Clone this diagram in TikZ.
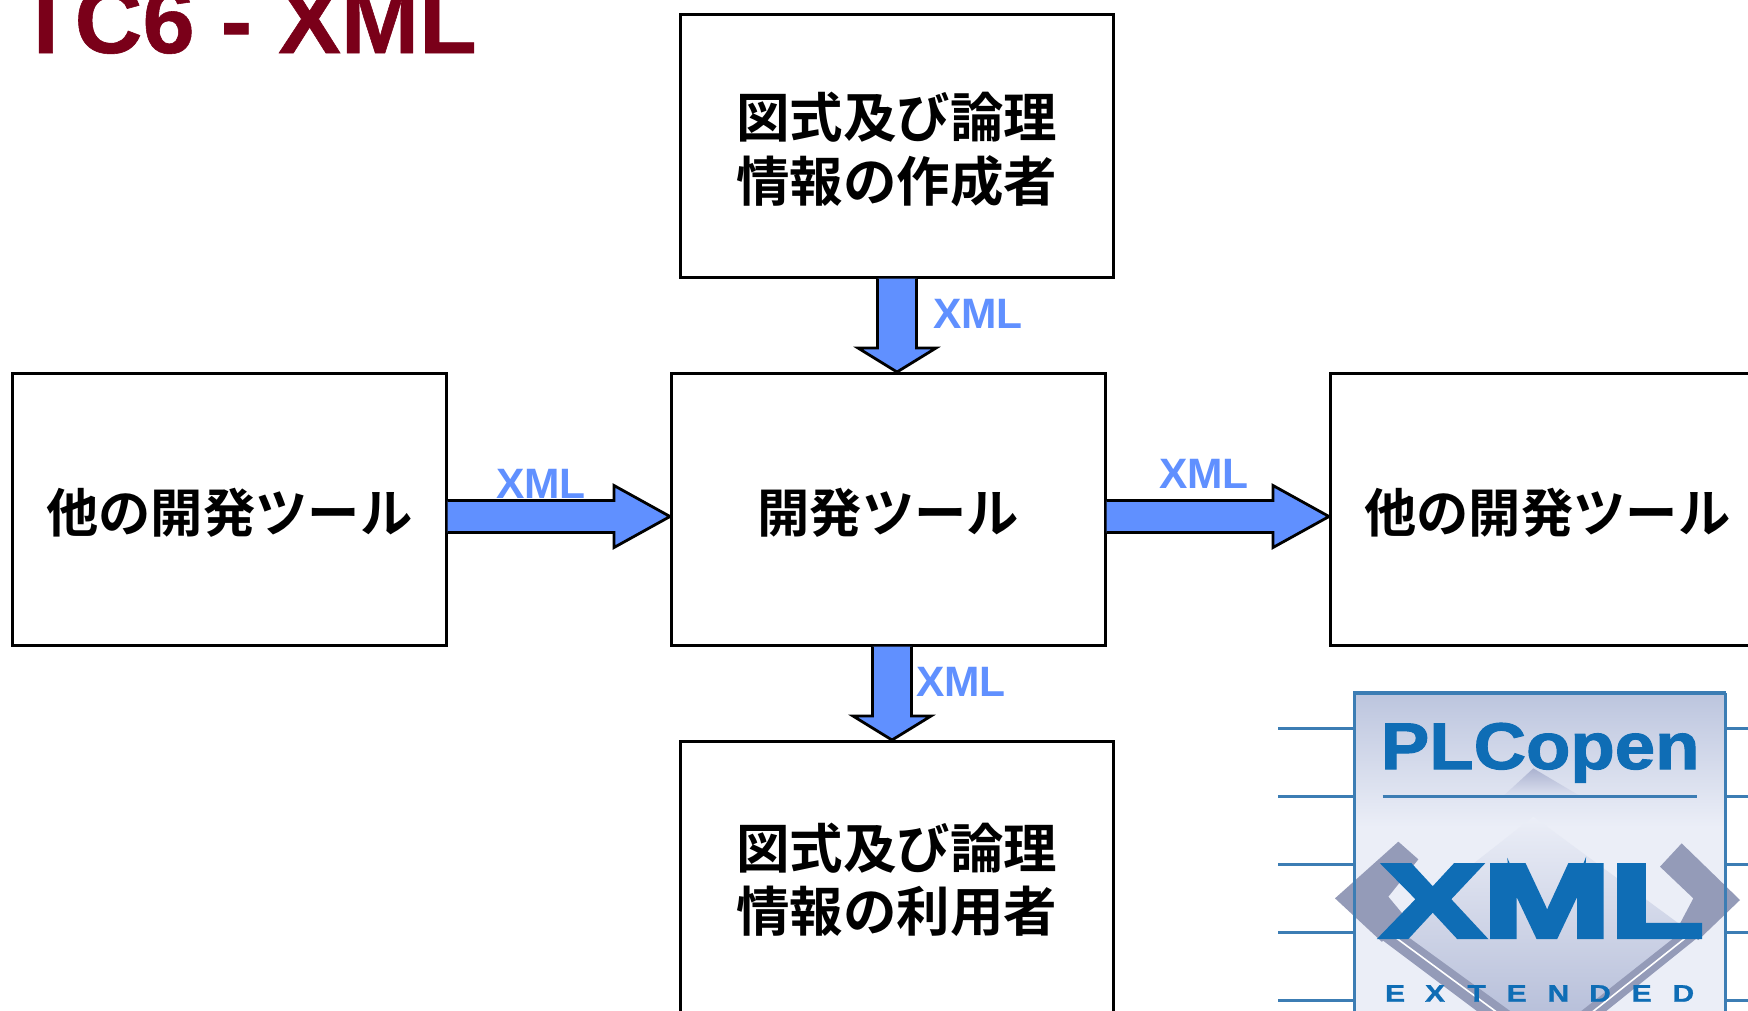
\documentclass[tikz,border=0pt]{standalone}
\usepackage{fontspec}
\setmainfont{Liberation Sans}
\newfontfamily\cjk{Noto Sans CJK JP}[BoldFont={Noto Sans CJK JP Bold}]
\usetikzlibrary{calc}
\definecolor{titlered}{HTML}{7A0019}
\definecolor{xmlblue}{HTML}{6090FF}
\definecolor{logoblue}{HTML}{0F6DB5}
\definecolor{logoline}{HTML}{3C7DB4}
\definecolor{logogray}{HTML}{949BB8}
\definecolor{logotop}{HTML}{BCC5DE}
\definecolor{logopale}{HTML}{EBEEF7}
\definecolor{logomid}{HTML}{AAB2D0}
\definecolor{logolight}{HTML}{DEE2F0}
\definecolor{logolow}{HTML}{B8C0DA}
\tikzset{
  box/.style={draw=black,line width=2.6pt,fill=white,anchor=north west,inner sep=0pt},
  boxtext/.style={inner sep=0pt,align=center,font=\cjk\bfseries\fontsize{53.5}{63.5}\selectfont},
  boxline/.style={inner sep=0pt,font=\cjk\bfseries\fontsize{52.3}{60}\selectfont},
  xmllabel/.style={text=xmlblue,anchor=base west,inner sep=0pt,font=\bfseries\fontsize{42.5}{42}\selectfont},
  blockarrow/.style={draw=black,line width=2.8pt,fill=xmlblue,line join=miter},
  logoedge/.style={draw=logoline,line width=3pt},
  logotext/.style={text=logoblue,inner sep=0pt,anchor=base west}
}
% block arrows from a named start coordinate to a named tip coordinate
\newcommand\arrowdown[5]{% start, tip, shaft half, head half, head length
  \draw[blockarrow] ($(#1)+(-#3,0)$) -- ($(#2)+(-#3,-#5)$) -- ($(#2)+(-#4,-#5)$) -- (#2)
    -- ($(#2)+(#4,-#5)$) -- ($(#2)+(#3,-#5)$) -- ($(#1)+(#3,0)$);}
\newcommand\arrowright[5]{%
  \draw[blockarrow] ($(#1)+(0,-#3)$) -- ($(#2)+(-#5,-#3)$) -- ($(#2)+(-#5,-#4)$) -- (#2)
    -- ($(#2)+(-#5,#4)$) -- ($(#2)+(-#5,#3)$) -- ($(#1)+(0,#3)$);}
\begin{document}
\begin{tikzpicture}[x=1pt,y=-1pt]
\useasboundingbox (0,0) rectangle (1748,1010);
\clip (0,0) rectangle (1748,1010);
\fill[white] (0,0) rectangle (1748,1010);

\node[anchor=base west,inner sep=0pt,text=titlered,font=\bfseries\addfontfeature{FakeBold=0.6}\fontsize{94}{94}\selectfont] (title) at (17,53) {TC6 - XML};

% boxes
\node[box,minimum width=433pt,minimum height=263pt] (top) at (679,13) {};
\node[box,minimum width=434pt,minimum height=272pt] (center) at (670,372) {};
\node[box,minimum width=434pt,minimum height=272pt] (left) at (11,372) {};
\node[box,minimum width=434pt,minimum height=272pt] (right) at (1329,372) {};
\node[box,minimum width=433pt,minimum height=320pt] (bottom) at (679,740) {};

\node[boxtext] (toptext) at ($(top.center)+(0,3.5)$) {図式及び論理\\情報の作成者};
\node[boxline] (centertext) at ($(center.center)+(0,3)$) {開発ツール};
\node[boxline] (lefttext) at ($(left.center)+(0,3)$) {他の開発ツール};
\node[boxline] (righttext) at ($(right.center)+(0,3)$) {他の開発ツール};
\node[boxtext] (bottomtext) at (896.5,880) {図式及び論理\\情報の利用者};

% connectors
\coordinate (ts) at (top.south -| 897,0);
\coordinate (te) at (center.north -| 897,0);
\arrowdown{ts}{te}{19.5}{39}{24}
\coordinate (bs) at (center.south -| 892,0);
\coordinate (be) at (bottom.north -| 892,0);
\arrowdown{bs}{be}{19.5}{39}{24}
\coordinate (ls) at (left.east |- 0,516.5);
\coordinate (le) at (center.west |- 0,516.5);
\arrowright{ls}{le}{16}{31}{56}
\coordinate (rs) at (center.east |- 0,516.5);
\coordinate (re) at (right.west |- 0,516.5);
\arrowright{rs}{re}{16}{31}{56}

\node[xmllabel] (xt) at (933,328) {XML};
\node[xmllabel] (xl) at (496,498) {XML};
\node[xmllabel] (xr) at (1159,488) {XML};
\node[xmllabel] (xb) at (916,696) {XML};

% logo (coordinates in zoomed crop units)
\begin{scope}[shift={(1250,670)},x=0.33333pt,y=-0.33333pt]
  \foreach \yy in {175,378,582,788,990}{
    \draw[logoedge] (84,\yy) -- (315,\yy);
    \draw[logoedge] (1425,\yy) -- (1494,\yy);
  }
  \shade[top color=logotop,bottom color=logopale] (313,70) rectangle (1425,470);
  \fill[logopale] (313,470) rectangle (1425,1030);
  \shade[top color=logomid,bottom color=logolight] (850,295) -- (990,378) -- (760,378) -- cycle;
  % lower diamond
  \shade[top color=logopale,bottom color=logolow] (850,440) -- (1340,800) -- (1020,1030) -- (770,1030) -- (390,800) -- cycle;
  \fill[logogray] (390,805) -- (480,805) -- (790,1030) -- (690,1030) -- cycle;
  \draw[white,line width=1.6pt] (440,805) -- (745,1030);
  \fill[logogray] (1270,805) -- (1340,805) -- (1060,1030) -- (985,1030) -- cycle;
  \draw[white,line width=1.6pt] (1305,805) -- (1022,1030);
  % gray corners
  \fill[logogray] (445,515) -- (505,568) -- (415,680) -- (490,770) -- (395,815) -- (255,685) -- cycle;
  \fill[logogray] (1295,520) -- (1470,690) -- (1345,810) -- (1285,770) -- (1330,685) -- (1230,590) -- cycle;
  \draw[logoedge] (313,70) -- (313,1030);
  \draw[logoedge] (1425,70) -- (1425,1030);
  \draw[logoedge,line width=4pt] (310,70) -- (1428,70);
  \draw[logoedge] (398,378) -- (1340,378);
  \node[logotext,font=\bfseries\addfontfeature{FakeBold=1.5}\fontsize{66}{66}\selectfont] (plc) at (392,297) {\scalebox{1.1}[1]{PLCopen}};
  \node[logotext,font=\bfseries\addfontfeature{FakeBold=4.5}\fontsize{103.6}{104}\selectfont] (bigxml) at (395,800) {\scalebox{1.47}[1]{XML}};
  \foreach \xc/\ch in {435/E,555/X,680/T,800/E,925/N,1050/D,1175/E,1300/D}{
    \node[text=logoblue,anchor=base,inner sep=0pt,font=\bfseries\addfontfeature{FakeBold=1}\fontsize{24}{24}\selectfont] at (\xc,995) {\scalebox{1.25}[1]{\ch}};
  }
\end{scope}
\end{tikzpicture}
\end{document}
